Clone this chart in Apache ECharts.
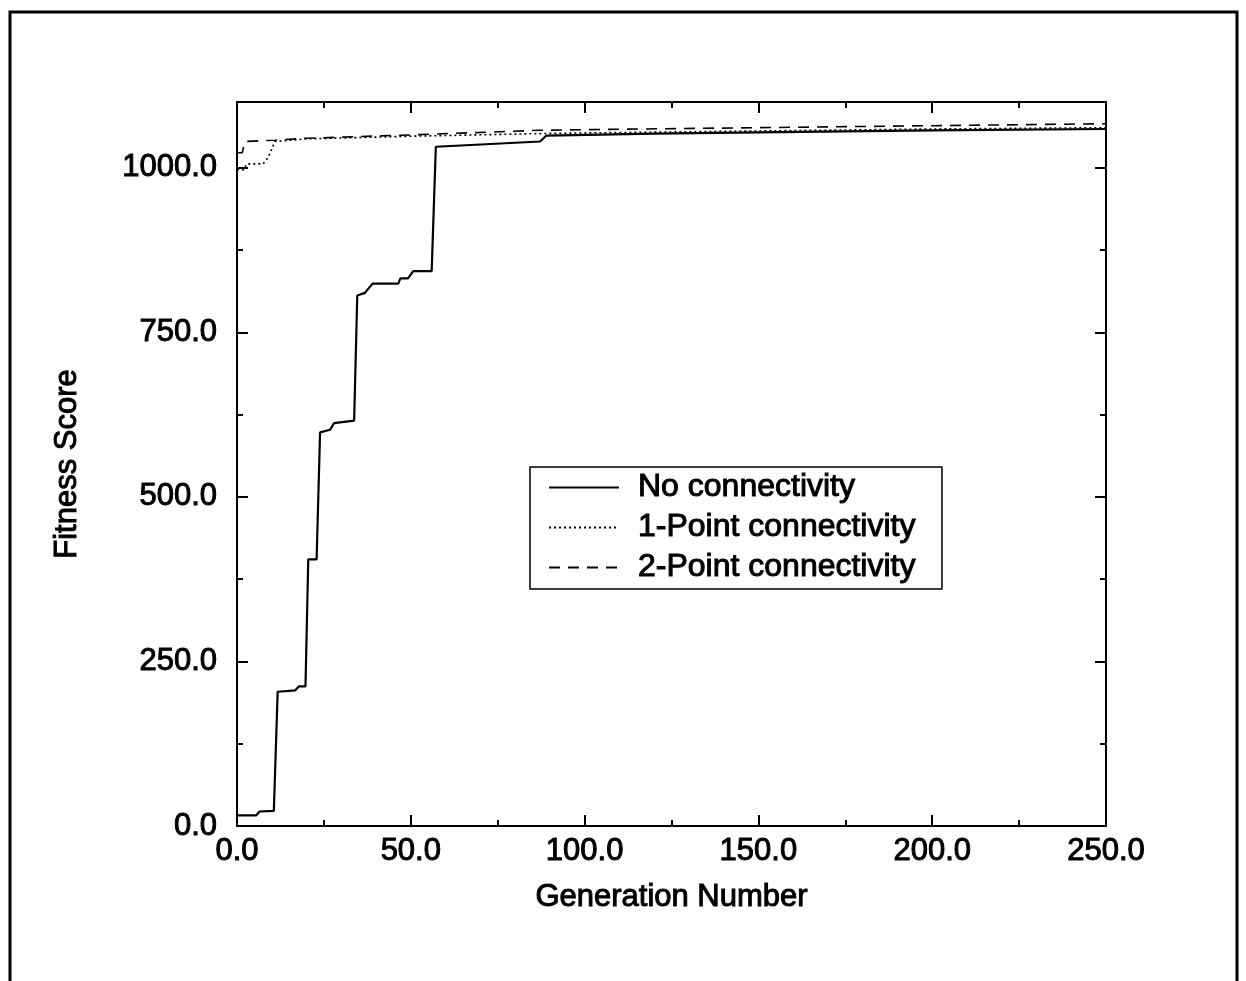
<!DOCTYPE html>
<html>
<head>
<meta charset="utf-8">
<script src="https://cdn.jsdelivr.net/npm/echarts@6/dist/echarts.min.js"></script>
<style>
  html, body { margin: 0; padding: 0; background: #fff; }
  #chart { width: 1246px; height: 981px; }
</style>
</head>
<body>
<div id="chart"></div>
<script>
// Generation number / fitness score
var genNone = [0, 5.5, 6.5, 10.6, 11.7, 16.7, 17.8, 19.7, 20.5, 22.9, 23.9, 26.8, 27.9, 33.7, 34.6, 36.8, 39, 46.4, 47, 49.2, 50.7, 56, 57.2, 87.2, 89, 120, 150, 200, 250];
var fitNone = [16, 16, 22, 23, 204, 206, 212, 212, 405, 405, 598, 602, 612, 616, 806, 810, 824, 824, 832, 832, 843, 843, 1032, 1040, 1049, 1052, 1054, 1057, 1059];

var gen1pt = [0, 2, 2.8, 7.5, 8.9, 10.9, 20, 50, 87, 100, 150, 200, 250];
var fit1pt = [997, 997, 1006, 1006, 1015, 1040, 1044, 1048, 1052, 1053, 1056, 1059, 1061];

var gen2pt = [0, 1.5, 2.3, 11, 20, 50, 87, 100, 150, 200, 250];
var fit2pt = [1023, 1023, 1040, 1042, 1045, 1050, 1057, 1058, 1061, 1064, 1067];

var seriesNames = ['No connectivity', '1-Point connectivity', '2-Point connectivity'];
var yMajor = [0, 250, 500, 750, 1000];
var yMinor = [125, 375, 625, 875];

function pairs(xs, ys) {
  return xs.map(function (x, i) { return [x, ys[i]]; });
}

var FONT = '"Liberation Sans", Arial, Helvetica, sans-serif';
var INK = '#000';
// scanned Helvetica is a bit heavy, thicken the glyphs slightly
var TEXT = { fontFamily: FONT, fontSize: 31, color: INK, textBorderColor: INK, textBorderWidth: 1 };

function text(extra) {
  return Object.assign({}, TEXT, extra || {});
}

function yAxisOf(pos, ticks, len, isMain) {
  return {
    type: 'value',
    position: pos,
    min: 0,
    max: 1100,
    axisLine: { show: isMain, onZero: false, lineStyle: { color: INK, width: 2 } },
    axisTick: { show: true, inside: true, length: len, customValues: ticks, lineStyle: { color: INK, width: 2 } },
    axisLabel: { show: false },
    splitLine: { show: false }
  };
}

function xAxisOf(pos, withLabels) {
  return {
    type: 'value',
    position: pos,
    min: 0,
    max: 250,
    interval: 50,
    axisLine: { onZero: false, lineStyle: { color: INK, width: 2 } },
    axisTick: { inside: true, length: 11, lineStyle: { color: INK, width: 2 } },
    minorTick: { show: true, splitNumber: 2, length: 6, lineStyle: { color: INK, width: 2 } },
    axisLabel: withLabels ? text({
      margin: 10,
      formatter: function (v) { return v.toFixed(1); }
    }) : { show: false },
    splitLine: { show: false },
    minorSplitLine: { show: false }
  };
}

var yLeft = yAxisOf('left', yMajor, 11, true);
yLeft.name = 'Fitness Score';
yLeft.nameLocation = 'middle';
yLeft.nameGap = 154;
yLeft.nameTextStyle = text();
yLeft.axisLabel = text({
  show: true,
  customValues: yMajor,
  margin: 20,
  formatter: function (v) { return v.toFixed(1); }
});

var xBottom = xAxisOf('bottom', true);
xBottom.name = 'Generation Number';
xBottom.nameLocation = 'middle';
xBottom.nameGap = 56;
xBottom.nameTextStyle = text();

var chart = echarts.init(document.getElementById('chart'), null, { renderer: 'canvas' });

chart.setOption({
  backgroundColor: '#fff',
  animation: false,
  grid: { left: 237, top: 102, right: 140, bottom: 155 },
  graphic: [{
    type: 'rect',
    shape: { x: 10, y: 12, width: 1227, height: 1000 },
    style: { fill: 'none', stroke: INK, lineWidth: 3 },
    silent: true
  }],
  legend: {
    data: seriesNames,
    orient: 'vertical',
    left: 530,
    top: 467,
    padding: [4, 26, 5, 18],
    itemGap: 7,
    itemWidth: 70,
    itemHeight: 14,
    borderColor: INK,
    borderWidth: 1.5,
    backgroundColor: '#fff',
    itemStyle: { opacity: 0, borderWidth: 0 },
    textStyle: text({ fontSize: 32, padding: [0, 0, 0, 14] })
  },
  xAxis: [xBottom, xAxisOf('top', false)],
  yAxis: [
    yLeft,
    yAxisOf('left', yMinor, 6, false),
    yAxisOf('right', yMajor, 11, true),
    yAxisOf('right', yMinor, 6, false)
  ],
  series: [{
    name: seriesNames[0],
    type: 'line',
    data: pairs(genNone, fitNone),
    showSymbol: false,
    symbol: 'none',
    color: INK,
    lineStyle: { color: INK, width: 2.2 }
  }, {
    name: seriesNames[1],
    type: 'line',
    data: pairs(gen1pt, fit1pt),
    showSymbol: false,
    symbol: 'none',
    color: INK,
    lineStyle: { color: INK, width: 1.6, type: [2, 3] }
  }, {
    name: seriesNames[2],
    type: 'line',
    data: pairs(gen2pt, fit2pt),
    showSymbol: false,
    symbol: 'none',
    color: INK,
    lineStyle: { color: INK, width: 1.6, type: [11, 8] }
  }]
});
</script>
</body>
</html>
